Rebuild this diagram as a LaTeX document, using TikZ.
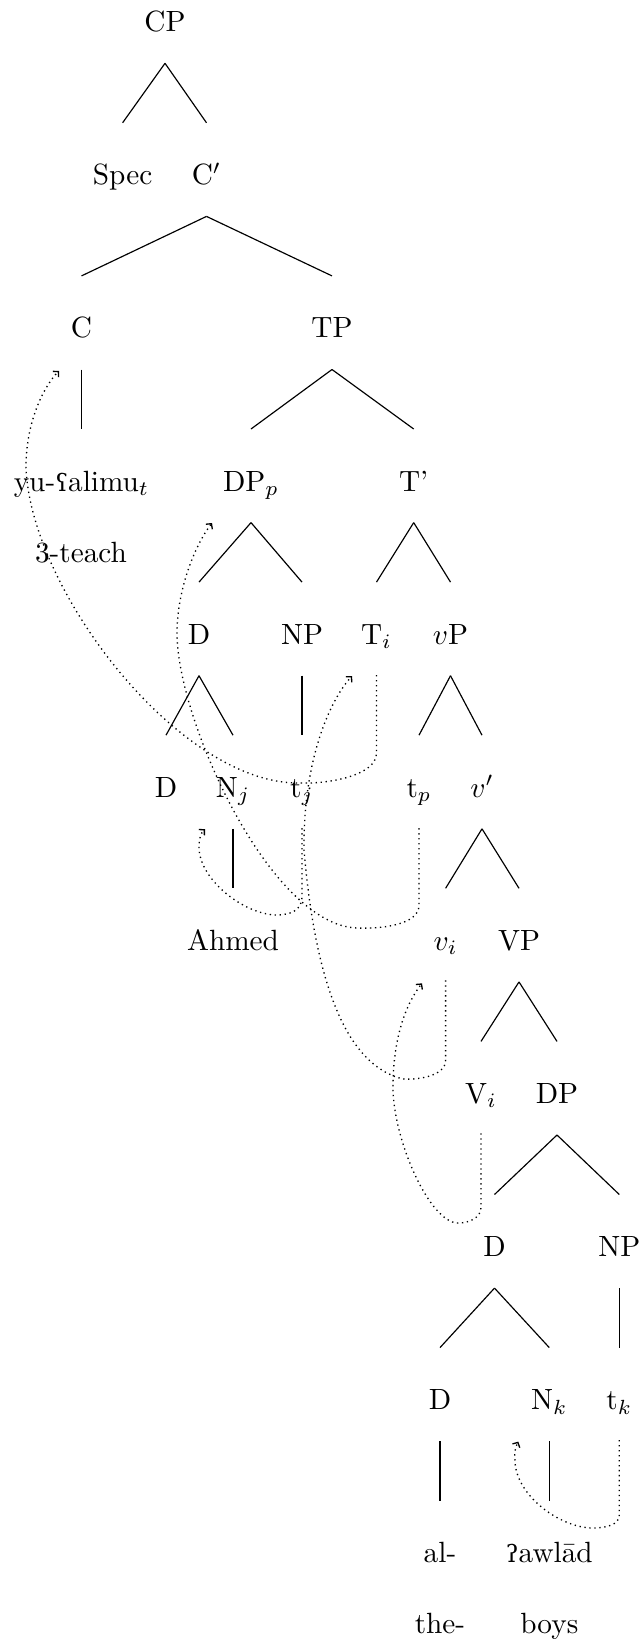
\documentclass[tikz,border=0pt]{standalone}
\usepackage{fontspec}
\newfontfamily\ipafont{DejaVu Serif}[Scale=0.82]
\usetikzlibrary{calc,arrows.meta}
\newcommand\treeedge[2]{\draw[branch] ($(#1.base)+(0,31.6)$) -- ($(#2.base)+(0,-62)$);}
\begin{document}
\begin{tikzpicture}[x=0.3415pt,y=-0.3415pt,
  lab/.style={anchor=base,inner sep=0pt,font=\fontsize{10}{12}\selectfont},
  branch/.style={line width=0.4pt},
  mv/.style={line width=0.45pt,dash pattern=on 0.45pt off 1.25pt,-{Straight Barb[length=1.3pt,width=2.8pt]}}]
\useasboundingbox (0,0) rectangle (641,1642);
% level 0
\node[lab] (cp) at (165,31.7) {CP};
% level 1
\node[lab] (spec) at (122.6,184.8) {Spec};
\node[lab] (cbar) at (206.5,184.8) {C$'$};
% level 2
\node[lab] (c) at (81.5,337.9) {C};
\node[lab] (tp) at (332,337.9) {TP};
% level 3
\node[lab] (yu) at (81.5,491) {yu-{\ipafont ʕ}alimu$_t$};
\node[lab] (teach) at (81,562) {3-teach};
\node[lab] (dpp) at (251,491) {DP$_p$};
\node[lab] (tbar) at (413.7,491) {T'};
% level 4
\node[lab] (d1) at (199,644.1) {D};
\node[lab] (np1) at (302,644.1) {NP};
\node[lab] (ti) at (376.5,644.1) {T$_i$};
\node[lab] (vp) at (450.5,644.1) {$v$P};
% level 5
\node[lab] (d2) at (166,797.2) {D};
\node[lab] (nj) at (233,797.2) {N$_j$};
\node[lab] (tj) at (302,797.2) {t$_j$};
\node[lab] (tpp) at (419,797.2) {t$_p$};
\node[lab] (vbar) at (482,797.2) {$v'$};
% level 6
\node[lab] (ahmed) at (233,950.3) {Ahmed};
\node[lab] (vi) at (445.6,950.3) {$v_i$};
\node[lab] (vpp) at (519,950.3) {VP};
% level 7
\node[lab] (vi2) at (481,1103.4) {V$_i$};
\node[lab] (dp) at (557,1103.4) {DP};
% level 8
\node[lab] (d3) at (494.5,1256.5) {D};
\node[lab] (np2) at (619.3,1256.5) {NP};
% level 9
\node[lab] (d4) at (440,1409.6) {D};
\node[lab] (nk) at (549.3,1409.6) {N$_k$};
\node[lab] (tk) at (619.3,1409.6) {t$_k$};
% level 10
\node[lab] (al) at (440,1562.7) {al-};
\node[lab] (awlad) at (549.3,1562.7) {{\ipafont ʔ}awlād};
\node[lab] (the) at (440,1633.7) {the-};
\node[lab] (boys) at (549.3,1633.7) {boys};
% tree edges
\treeedge{cp}{spec}
\treeedge{cp}{cbar}
\treeedge{cbar}{c}
\treeedge{cbar}{tp}
\treeedge{c}{yu}
\treeedge{tp}{dpp}
\treeedge{tp}{tbar}
\treeedge{dpp}{d1}
\treeedge{dpp}{np1}
\treeedge{tbar}{ti}
\treeedge{tbar}{vp}
\treeedge{d1}{d2}
\treeedge{d1}{nj}
\treeedge{np1}{tj}
\treeedge{vp}{tpp}
\treeedge{vp}{vbar}
\treeedge{nj}{ahmed}
\treeedge{vbar}{vi}
\treeedge{vbar}{vpp}
\treeedge{vpp}{vi2}
\treeedge{vpp}{dp}
\treeedge{dp}{d3}
\treeedge{dp}{np2}
\treeedge{d3}{d4}
\treeedge{d3}{nk}
\treeedge{np2}{tk}
\treeedge{d4}{al}
\treeedge{nk}{awlad}
% movement arrows
\draw[mv] ($(ti.base)+(0,31)$) -- ++(0,78) .. controls +(0,22) and (330,784) .. (300,783)
  .. controls (180,785) and (30,590) .. (26,467)
  .. controls (26,420) and (45,385) .. ($(c.base)+(-22.5,33)$);
\draw[mv] ($(tpp.base)+(0,31)$) -- ++(0,77) .. controls +(0,20) and (380,929) .. (357,928)
  .. controls (270,925) and (177,720) .. (177,633)
  .. controls (177,590) and (195,545) .. ($(dpp.base)+(-39,32)$);
\draw[mv] ($(vi.base)+(0,30)$) -- ++(0,80) .. controls +(0,15) and (420,1080) .. (403,1079)
  .. controls (345,1065) and (315,980) .. (304,850)
  .. controls (303,760) and (330,700) .. ($(ti.base)+(-24.5,32)$);
\draw[mv] ($(vi2.base)+(0,30)$) -- ++(0,74) .. controls +(0,10) and (470,1223) .. (458,1223)
  .. controls (430,1223) and (393,1140) .. (393,1087)
  .. controls (393,1040) and (405,1005) .. ($(vi.base)+(-23.6,33)$);
\draw[mv] ($(tj.base)+(0,31)$) -- ++(0,69) .. controls +(0,13) and (290,915) .. (277,915)
  .. controls (245,915) and (199,880) .. (199,847)
  .. controls (199,838) and (201,833) .. ($(nj.base)+(-28,32)$);
\draw[mv] ($(tk.base)+(0,30.5)$) -- ++(0,75) .. controls +(0,10) and (605,1528) .. (593,1528)
  .. controls (560,1528) and (515,1495) .. (515,1460)
  .. controls (514,1452) and (516,1446) .. ($(nk.base)+(-31,32)$);
\end{tikzpicture}
\end{document}
